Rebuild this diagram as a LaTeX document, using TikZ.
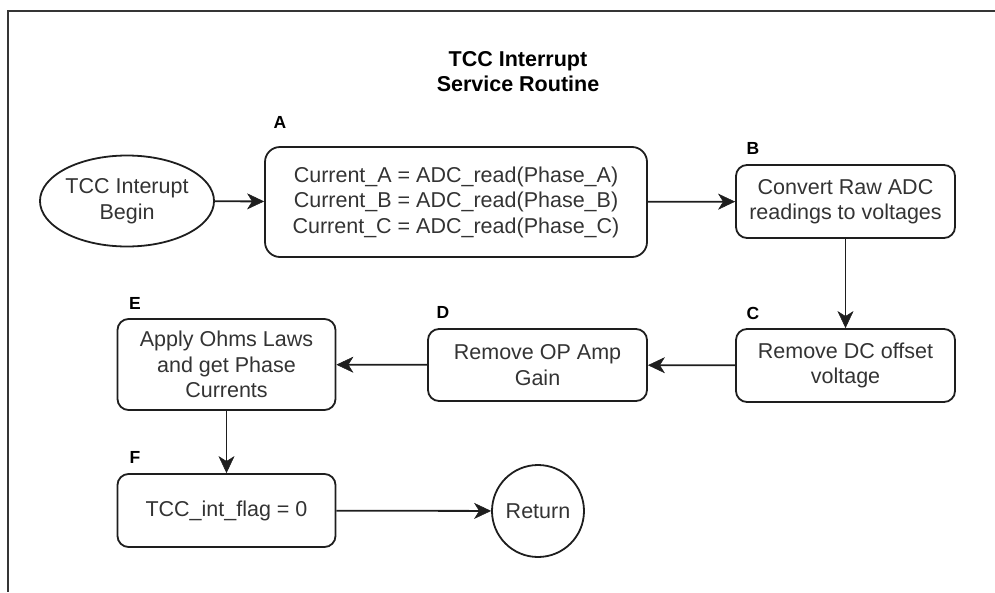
\documentclass[tikz,border=0pt]{standalone}
\usepackage{fontspec}
\setmainfont{Liberation Sans}
\usetikzlibrary{arrows.meta,shapes.geometric}
\definecolor{linec}{HTML}{1E1E1E}
\definecolor{textc}{HTML}{333333}
\tikzset{
  every node/.style={font=\fontsize{21.5}{25.5}\selectfont, text=textc},
  stepbox/.style={draw=linec, line width=1.8pt, rounded corners=11pt, inner sep=0pt, align=center},
  lbl/.style={font=\fontsize{17.5}{20}\selectfont\bfseries, text=black, inner sep=0pt},
  conn/.style={draw=linec, line width=1.8pt, -{Stealth[length=17pt,width=16pt,inset=5pt,line width=0.5pt]}},
}
\begin{document}
\begin{tikzpicture}[x=1pt,y=-1pt]
\useasboundingbox (0,0) rectangle (995,592);
\draw[color=linec!90, line width=2.2pt] (995,11) -- (8,11) -- (8,592);
\node[align=center, font=\fontsize{21.5}{25.5}\selectfont\bfseries, text=black] (title) at (518,71.5) {TCC Interrupt\\Service Routine};
\node[ellipse, draw=linec, line width=1.8pt, minimum width=164pt, minimum height=91pt, inner sep=0pt, align=center] (start) at (127,201) {TCC Interupt\\Begin};
\node[stepbox, rounded corners=15pt, minimum width=382pt, minimum height=110pt] (A) at (456,202) {Current\_A = ADC\_read(Phase\_A)\\Current\_B = ADC\_read(Phase\_B)\\Current\_C = ADC\_read(Phase\_C)};
\node[stepbox, minimum width=219pt, minimum height=73pt] (B) at (845.5,201.5) {Convert Raw ADC\\readings to voltages};
\node[stepbox, minimum width=219pt, minimum height=73pt] (C) at (845.5,365.5) {Remove DC offset\\voltage};
\node[stepbox, minimum width=219pt, minimum height=72pt] (D) at (537.5,365) {Remove OP Amp\\Gain};
\node[stepbox, minimum width=218pt, minimum height=91pt] (E) at (226.5,364.5) {Apply Ohms Laws\\and get Phase\\Currents};
\node[stepbox, minimum width=218pt, minimum height=73pt] (F) at (226.5,510.5) {TCC\_int\_flag = 0};
\node[circle, draw=linec, line width=1.8pt, minimum size=92pt, inner sep=0pt] (ret) at (538,511) {Return};
\node[lbl] (la) at (280,122) {A};
\node[lbl] (lb) at (753,148) {B};
\node[lbl] (lc) at (753,313) {C};
\node[lbl] (ld) at (443,312) {D};
\node[lbl] (le) at (135,303) {E};
\node[lbl] (lf) at (135,457) {F};
\draw[conn] (start) -- (A);
\draw[conn] (A) -- (B);
\draw[conn] (B) -- (C);
\draw[conn] (C) -- (D);
\draw[conn] (D) -- (E);
\draw[conn] (E) -- (F);
\draw[conn] (F) -- (ret);
\end{tikzpicture}
\end{document}
